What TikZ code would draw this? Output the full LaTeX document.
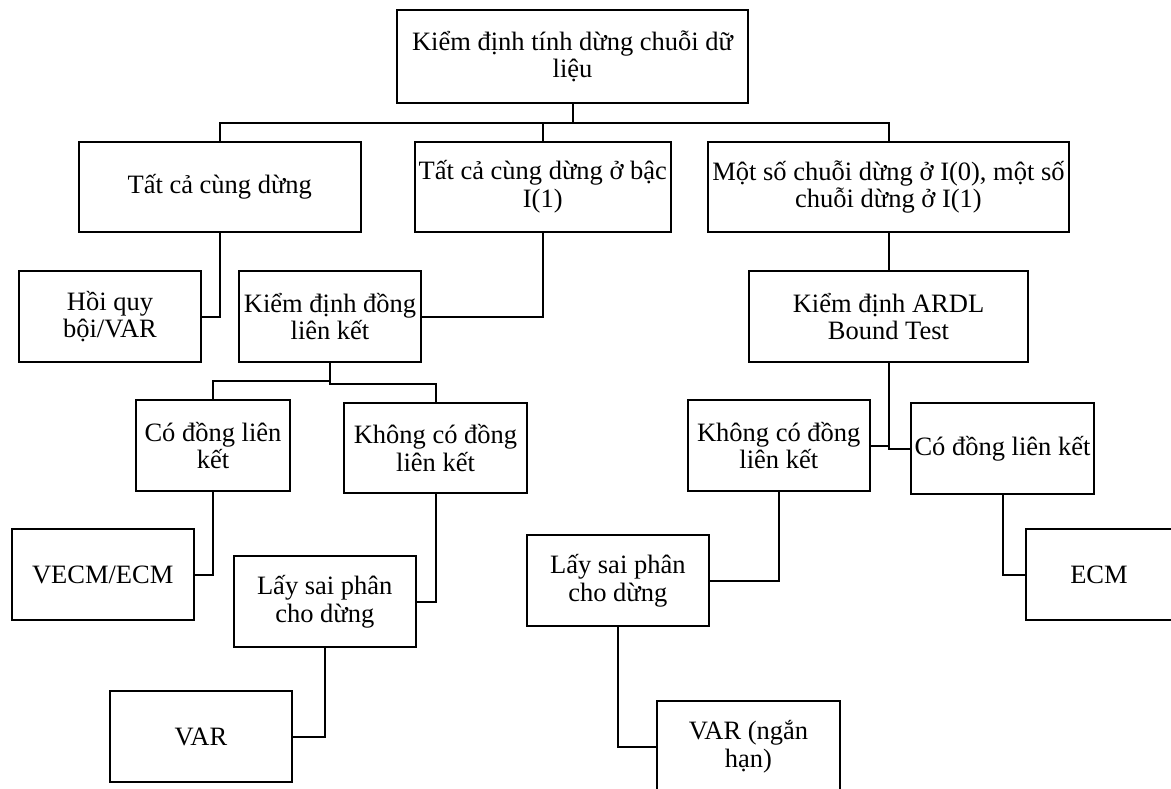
\documentclass[tikz,border=0pt]{standalone}
\usepackage{fontspec}
\setmainfont{Liberation Serif}
\begin{document}
\begin{tikzpicture}[x=1pt,y=-1pt,
  bx/.style={draw, line width=2pt, inner sep=0pt, align=center,
    font=\fontsize{26.5}{27.7}\selectfont, minimum height=91pt},
  ln/.style={line width=2pt}]
\clip (0,0) rectangle (1171,789);
\useasboundingbox (0,0) rectangle (1171,789);
\fill[white] (0,0) rectangle (1171,789);

\node[bx, minimum width=351pt, minimum height=93pt] (top) at (572.5,56.5) {Kiểm định tính dừng chuỗi dữ\\liệu};
\node[bx, minimum width=281.5pt, minimum height=90pt] (s1) at (219.75,187) {Tất cả cùng dừng};
\node[bx, minimum width=255.5pt, minimum height=90pt] (s2) at (542.75,187) {Tất cả cùng dừng ở bậc\\I(1)};
\node[bx, minimum width=361pt, minimum height=90pt] (s3) at (888.5,187) {Một số chuỗi dừng ở I(0), một số\\chuỗi dừng ở I(1)};
\node[bx, minimum width=182pt] (hoi) at (110,316.5) {Hồi quy\\bội/VAR};
\node[bx, minimum width=182pt] (kd) at (330,316.5) {Kiểm định đồng\\liên kết};
\node[bx, minimum width=279pt] (ardl) at (888.5,316.5) {Kiểm định ARDL\\Bound Test};
\node[bx, minimum width=154pt] (co1) at (213,445.5) {Có đồng liên\\kết};
\node[bx, minimum width=183pt, minimum height=90pt] (ko1) at (435.5,448) {Không có đồng\\liên kết};
\node[bx, minimum width=182.5pt] (vecm) at (102.75,574.5) {VECM/ECM};
\node[bx, minimum width=182.5pt] (lay1) at (324.75,601.5) {Lấy sai phân\\cho dừng};
\node[bx, minimum width=182pt] (var1) at (201,736.5) {VAR};
\node[bx, minimum width=181.5pt] (ko2) at (778.75,445.5) {Không có đồng\\liên kết};
\node[bx, minimum width=183pt] (co2) at (1002.5,448.5) {Có đồng liên kết};
\node[bx, minimum width=146pt] (ecm) at (1099,574.5) {ECM};
\node[bx, minimum width=182.5pt] (lay2) at (617.8,580.5) {Lấy sai phân\\cho dừng};
\node[bx, minimum width=183pt] (var2) at (748.5,746.5) {VAR (ngắn\\hạn)};

\coordinate (b1) at (572.5,123.5);
\draw[ln] (top.south) -- (b1) -| (s1.north);
\draw[ln] (b1) -| (s2.north);
\draw[ln] (b1) -| (s3.north);
\draw[ln] (s1.south) |- (hoi.east);
\draw[ln] (s2.south) |- (kd.east);
\draw[ln] (s3.south) -- (ardl.north);
\draw[ln] (kd.south) -- ++(0,18) -| (co1.north);
\draw[ln] (kd.south) -- ++(0,21) -| (ko1.north);
\draw[ln] (co1.south) |- (vecm.east);
\draw[ln] (ko1.south) |- (lay1.east);
\draw[ln] (lay1.south) |- (var1.east);
\draw[ln] (ardl.south) |- (co2.west);
\draw[ln] (ko2.east) -- (ko2.east -| ardl.south);
\draw[ln] (co2.south) |- (ecm.west);
\draw[ln] (ko2.south) |- (lay2.east);
\draw[ln] (lay2.south) |- (var2.west);
\end{tikzpicture}
\end{document}
